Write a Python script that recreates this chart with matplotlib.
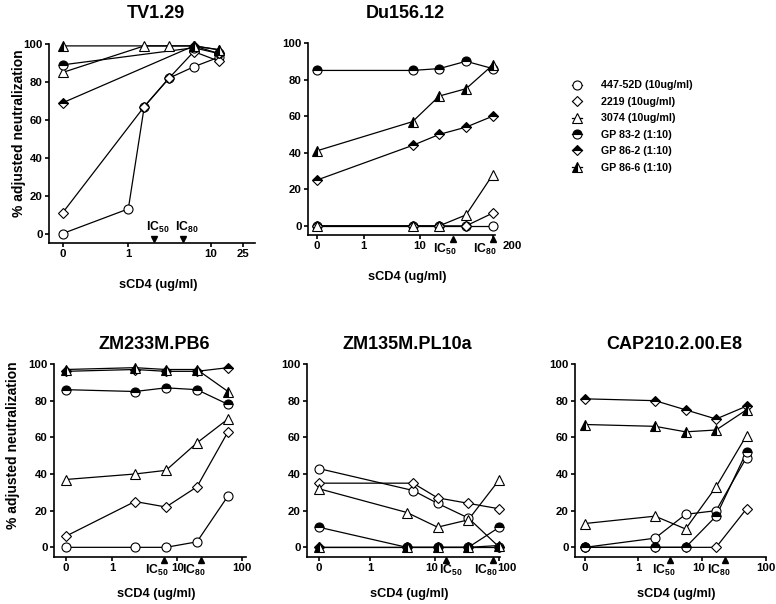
import numpy as np
import matplotlib
matplotlib.use('Agg')
import matplotlib.pyplot as plt
from matplotlib.lines import Line2D
from matplotlib.transforms import blended_transform_factory, ScaledTranslation

plt.rcParams['font.family'] = ['Liberation Sans', 'DejaVu Sans']
plt.rcParams['font.weight'] = 'bold'
plt.rcParams['axes.titleweight'] = 'bold'
plt.rcParams['axes.labelweight'] = 'bold'
plt.rcParams['mathtext.fontset'] = 'custom'
plt.rcParams['mathtext.rm'] = 'Liberation Sans:bold'
plt.rcParams['mathtext.bf'] = 'Liberation Sans:bold'
plt.rcParams['mathtext.it'] = 'Liberation Sans:bold'

# ---------------- data ----------------
series_names = ['447-52D (10ug/ml)', '2219 (10ug/ml)', '3074 (10ug/ml)',
                'GP 83-2 (1:10)', 'GP 86-2 (1:10)', 'GP 86-6 (1:10)']

tv_conc = [0, 1, 1.5625, 3.125, 6.25, 12.5]
tv_447 = [0, 13, 67, 82, 88, 93]
tv_2219 = [11, None, 67, 82, 96, 91]
tv_3074 = [85, None, 99, 99, 99, 97]
tv_gp832 = [89, None, None, None, 98, 95]
tv_gp862 = [69, None, None, None, 99, 95]
tv_gp866 = [99, None, None, None, 99, 97]
tv_ticks = [0, 1, 10, 25]
tv_ic = [2.07, 4.66]

du_conc = [0, 7.4, 22.2, 66.7, 200]
du_447 = [0, 0, 0, 0, 0]
du_2219 = [0, 0, 0, 0, 7]
du_3074 = [0, 0, 0, 6, 28]
du_gp832 = [85, 85, 86, 90, 86]
du_gp862 = [25, 44, 50, 54, 60]
du_gp866 = [41, 57, 71, 75, 88]
du_ticks = [0, 1, 10, 200]
du_ic = [38.6, 200]

zm233_conc = [0, 2.22, 6.67, 20, 60]
zm233_447 = [0, 0, 0, 3, 28]
zm233_2219 = [6, 25, 22, 33, 63]
zm233_3074 = [37, 40, 42, 57, 70]
zm233_gp832 = [86, 85, 87, 86, 78]
zm233_gp862 = [96, 97, 96, 96, 98]
zm233_gp866 = [97, 98, 97, 97, 85]
zm233_ticks = [0, 1, 10, 100]
zm233_ic = [6.2, 23]

zm135_conc = [0, 3.7, 4.6, 11, 33, 100]
zm135_447 = [43, None, 31, 24, 16, 0]
zm135_2219 = [35, None, 35, 27, 24, 21]
zm135_3074 = [32, 19, None, 11, 15, 37]
zm135_gp832 = [11, 0, None, 0, 0, 11]
zm135_gp862 = [0, 0, None, 0, 0, 0]
zm135_gp866 = [0, 0, None, 0, 0, 1]
zm135_ticks = [0, 1, 10, 100]
zm135_ic = [14.8, 80]

cap_conc = [0, 1.85, 5.56, 16.7, 50]
cap_447 = [0, 5, 18, 20, 49]
cap_2219 = [0, 0, 0, 0, 21]
cap_3074 = [13, 17, 10, 33, 61]
cap_gp832 = [0, 0, 0, 17, 52]
cap_gp862 = [81, 80, 75, 70, 77]
cap_gp866 = [67, 66, 63, 64, 75]
cap_ticks = [0, 1, 10, 100]
cap_ic = [3.2, 23]

y_ticks = [0, 20, 40, 60, 80, 100]

# ---------------- styles ----------------
MS = 6.5
DS = 5.2
styles = [
    dict(marker='o', ms=MS, mfc='white', mec='black', mew=0.8),
    dict(marker='D', ms=DS, mfc='white', mec='black', mew=0.8),
    dict(marker='^', ms=MS, mfc='white', mec='black', mew=0.8),
    dict(marker='o', ms=MS, mfc='black', mfcalt='white', fillstyle='top', mec='black', mew=0.8),
    dict(marker='D', ms=DS, mfc='black', mfcalt='white', fillstyle='top', mec='black', mew=0.8),
    dict(marker='^', ms=MS, mfc='black', mfcalt='white', fillstyle='left', mec='black', mew=0.8),
]

W, H = 776, 604
fig = plt.figure(figsize=(W / 100, H / 100), dpi=100)

panels = [
    dict(title='TV1.29', rect=(49, 44, 255, 243), xlim=(0.109, 34.5), zero=0.16,
         conc=tv_conc, ys=[tv_447, tv_2219, tv_3074, tv_gp832, tv_gp862, tv_gp866],
         ticks=tv_ticks, ic=tv_ic, ic_mode='above', ylabel=True, ylpad=-2, ly=0.55,
         pad=18.5, xlpad=14, ic_align=[('center', 3), ('center', 3)], tick_dx={}),
    dict(title='Du156.12', rect=(308, 43, 495, 235), xlim=(0.1007, 219), zero=0.144,
         conc=du_conc, ys=[du_447, du_2219, du_3074, du_gp832, du_gp862, du_gp866],
         ticks=du_ticks, ic=du_ic, ic_mode='below', ylabel=False, ylpad=0, ly=0.5,
         pad=18, xlpad=14, ic_align=[('right', 4), ('right', 4)], tick_dx={200: 20}),
    dict(title='ZM233M.PB6', rect=(54, 364, 246, 556.5), xlim=(0.126, 113.7), zero=0.19,
         conc=zm233_conc, ys=[zm233_447, zm233_2219, zm233_3074, zm233_gp832, zm233_gp862, zm233_gp866],
         ticks=zm233_ticks, ic=zm233_ic, ic_mode='below', ylabel=True, ylpad=6, ly=0.58,
         pad=10.5, xlpad=11, ic_align=[('right', 5), ('right', 5)], tick_dx={}),
    dict(title='ZM135M.PL10a', rect=(307, 364, 500, 556.5), xlim=(0.105, 102), zero=0.159,
         conc=zm135_conc, ys=[zm135_447, zm135_2219, zm135_3074, zm135_gp832, zm135_gp862, zm135_gp866],
         ticks=zm135_ticks, ic=zm135_ic, ic_mode='below', ylabel=False, ylpad=0, ly=0.5,
         pad=10.5, xlpad=11, ic_align=[('left', -7), ('right', 4)], tick_dx={100: 7, 10: -3}),
    dict(title='CAP210.2.00.E8', rect=(575, 364, 766, 556.5), xlim=(0.103, 101), zero=0.148,
         conc=cap_conc, ys=[cap_447, cap_2219, cap_3074, cap_gp832, cap_gp862, cap_gp866],
         ticks=cap_ticks, ic=cap_ic, ic_mode='below', ylabel=False, ylpad=0, ly=0.5,
         pad=10.5, xlpad=11, ic_align=[('right', 5), ('right', 6)], tick_dx={10: -3}),
]


def make_scale(z):
    lz = np.log10(z)

    def fwd(x):
        x = np.asarray(x, dtype=float)
        safe = np.where(x > 0, x, 1.0)
        return np.where(x > 0, np.log10(safe), lz)

    def inv(y):
        return np.power(10.0, np.asarray(y, dtype=float))
    return fwd, inv


def px(dx, dy):
    return ScaledTranslation(dx / 100.0, dy / 100.0, fig.dpi_scale_trans)


for p in panels:
    l, t, r, b = p['rect']
    ax = fig.add_axes([l / W, 1 - b / H, (r - l) / W, (b - t) / H])
    ax.set_xscale('function', functions=make_scale(p['zero']))

    for ys in p['ys']:
        xs = [c for c, v in zip(p['conc'], ys) if v is not None]
        vs = [v for v in ys if v is not None]
        ax.plot(xs, vs, color='black', lw=0.9, zorder=2, clip_on=False)
    for ys, st in zip(p['ys'], styles):
        xs = [c for c, v in zip(p['conc'], ys) if v is not None]
        vs = [v for v in ys if v is not None]
        ax.plot(xs, vs, ls='none', zorder=3, clip_on=False, **st)

    for s in ['top', 'right']:
        ax.spines[s].set_visible(False)
    for s in ['left', 'bottom']:
        ax.spines[s].set_linewidth(1.2)
    ax.set_yticks(y_ticks)
    ax.set_xticks(p['ticks'])
    ax.set_xticklabels([str(v) for v in p['ticks']])
    ax.set_xlim(*p['xlim'])
    ax.set_ylim(-5, 100)
    ax.tick_params(direction='out', length=3, width=1.2, labelsize=8.2, pad=1.5)
    for lbl, tv in zip(ax.get_xticklabels(), p['ticks']):
        if tv in p['tick_dx']:
            lbl.set_transform(lbl.get_transform() + px(p['tick_dx'][tv], 0))

    ax.set_title(p['title'], fontsize=13, pad=p['pad'], x=0.52)
    ax.set_xlabel('sCD4 (ug/ml)', fontsize=9.2, labelpad=p['xlpad'], x=0.53)
    if p['ylabel']:
        ax.set_ylabel('% adjusted neutralization', fontsize=10, labelpad=p['ylpad'], y=p['ly'])

    trans = blended_transform_factory(ax.transData, ax.transAxes)
    for v, sub, (ha, dx) in zip(p['ic'], ['50', '80'], p['ic_align']):
        if p['ic_mode'] == 'above':
            ax.plot([v], [0], marker='v', ms=5, color='black', ls='none', clip_on=False,
                    transform=trans + px(0, 4), zorder=4)
            ax.text(v, 0, r'$\mathbf{IC_{' + sub + '}}$', transform=trans + px(dx, 12),
                    ha=ha, va='baseline', fontsize=8.8)
        else:
            ax.plot([v], [0], marker='^', ms=5, color='black', ls='none', clip_on=False,
                    transform=trans + px(0, -3.8), zorder=4)
            ax.text(v, 0, r'$\mathbf{IC_{' + sub + '}}$', transform=trans + px(dx, -17.5),
                    ha=ha, va='baseline', fontsize=8.8)

handles = [Line2D([], [], color='black', lw=0.9, **st) for st in styles]
fig.legend(handles, series_names, loc='upper left',
           bbox_to_anchor=(571.7 / W, 1 - 80.5 / H), frameon=False, fontsize=7.7,
           handlelength=0.95, handletextpad=1.8, labelspacing=0.6,
           borderpad=0, borderaxespad=0)

fig.savefig('out.png', dpi=100)
